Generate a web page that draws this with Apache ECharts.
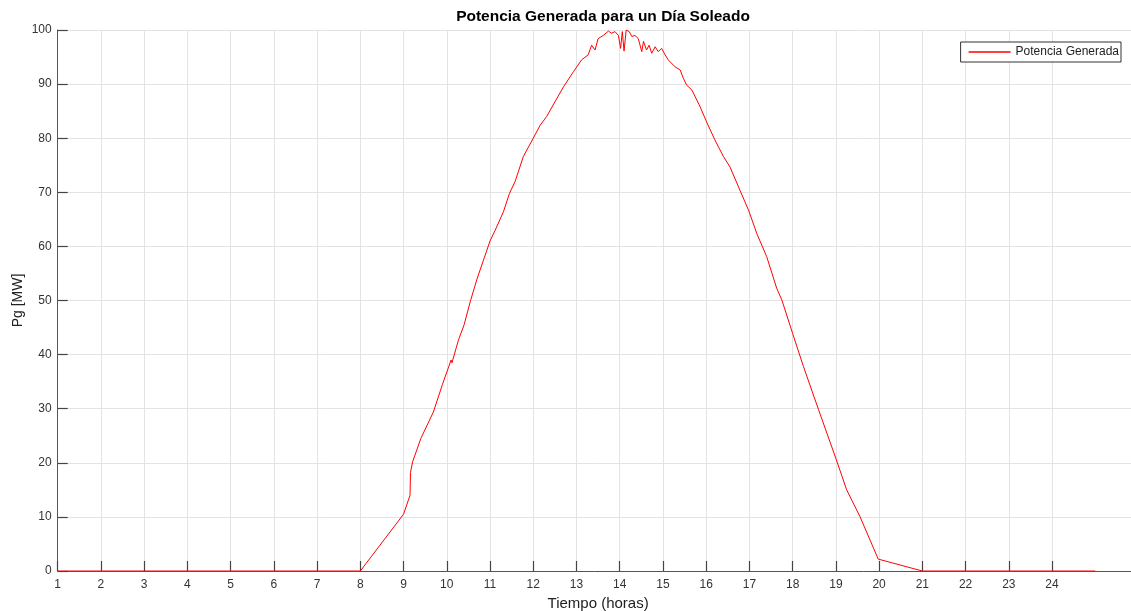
<!DOCTYPE html>
<html>
<head>
<meta charset="utf-8">
<script src="https://cdn.jsdelivr.net/npm/echarts@6/dist/echarts.min.js"></script>
<style>html,body{margin:0;padding:0;background:#fff}#c{width:1131px;height:611px}</style>
</head>
<body>
<div id="c"></div>
<script>
const titleText = 'Potencia Generada para un Día Soleado';
const seriesName = 'Potencia Generada';
const xTicks = [1,2,3,4,5,6,7,8,9,10,11,12,13,14,15,16,17,18,19,20,21,22,23,24];
const hours = [1,8,9,9.15,9.16,9.21,9.4,9.69,9.9,10.1,10.12,10.27,10.4,10.55,10.7,10.85,11.0,11.12,11.31,11.45,11.58,11.77,12.0,12.16,12.31,12.5,12.7,12.93,13.12,13.27,13.35,13.39,13.43,13.5,13.62,13.74,13.81,13.89,13.97,14.02,14.06,14.1,14.15,14.22,14.28,14.35,14.43,14.51,14.55,14.62,14.68,14.74,14.82,14.89,14.97,15.05,15.12,15.28,15.4,15.47,15.55,15.67,15.86,16.01,16.2,16.4,16.55,16.78,16.98,17.17,17.4,17.63,17.75,18.0,18.25,18.6,19.0,19.25,19.56,19.98,20,21,25];
const power = [0,0,10.5,14,18.2,20.2,24.5,29.4,34.5,39,38.5,42.7,45.5,50,54,57.5,61,63,66.4,69.8,72,76.6,80,82.4,84,86.7,89.5,92.3,94.5,95.4,97.2,97.5,96.3,98.4,99,99.8,99.4,99.7,99,96.6,99.7,96.1,100,99.7,98.8,99,98.4,96,97.9,96.3,97.2,95.7,96.9,96,96.6,95.4,94.5,93.2,92.6,91.1,89.8,88.9,85.8,83,79.7,76.6,74.7,70.4,66.7,62.4,58.1,52.3,50.1,43.9,37.8,29.8,20.8,15,10,2.2,2,0,0];

const chart = echarts.init(document.getElementById('c'), null, {renderer:'canvas'});
const font = 'Liberation Sans, Arial, Helvetica, sans-serif';
chart.setOption({
  backgroundColor:'#fff',
  animation:false,
  textStyle:{fontFamily:font},
  title:{text:titleText,left:598,top:4,textAlign:'center',
    textStyle:{fontFamily:font,fontSize:15.5,fontWeight:'bold',color:'#000'}},
  legend:{data:[seriesName],right:10,top:42,orient:'vertical',
    backgroundColor:'#fff',borderColor:'#333',borderWidth:1,borderRadius:0,
    padding:[4,2,4,8],itemWidth:42,itemHeight:1.5,icon:'rect',itemGap:5,
    textStyle:{fontFamily:font,fontSize:12,color:'#222'}},
  grid:{left:57.7,right:-7.5,top:30,bottom:40,containLabel:false,outerBoundsMode:'none'},
  xAxis:{type:'value',min:1,max:26,interval:1,
    name:'Tiempo (horas)',nameLocation:'middle',nameGap:25,nameMoveOverlap:false,
    nameTextStyle:{fontFamily:font,fontSize:15,color:'#222'},
    axisLine:{show:true,onZero:false,lineStyle:{color:'#555',width:1}},
    axisTick:{show:true,inside:true,length:10,customValues:xTicks,lineStyle:{color:'#444',width:1.2}},
    axisLabel:{customValues:xTicks,fontFamily:font,fontSize:12,color:'#333',margin:8},
    splitLine:{show:true,lineStyle:{color:'#e3e3e3',width:1}}},
  yAxis:{type:'value',min:0,max:100,interval:10,
    name:'Pg [MW]',nameLocation:'middle',nameGap:33,nameMoveOverlap:false,
    nameTextStyle:{fontFamily:font,fontSize:14,color:'#222'},
    axisLine:{show:true,lineStyle:{color:'#555',width:1}},
    axisTick:{show:true,inside:true,length:10,lineStyle:{color:'#444',width:1.2}},
    axisLabel:{fontFamily:font,fontSize:12,color:'#333',margin:6},
    splitLine:{show:true,lineStyle:{color:'#e3e3e3',width:1}}},
  series:[{name:seriesName,type:'line',showSymbol:false,symbol:'none',
    data:hours.map((h,i)=>[h,power[i]]),
    lineStyle:{color:'#ff0000',width:1},itemStyle:{color:'#ff0000'},z:5}]
});
</script>
</body>
</html>
